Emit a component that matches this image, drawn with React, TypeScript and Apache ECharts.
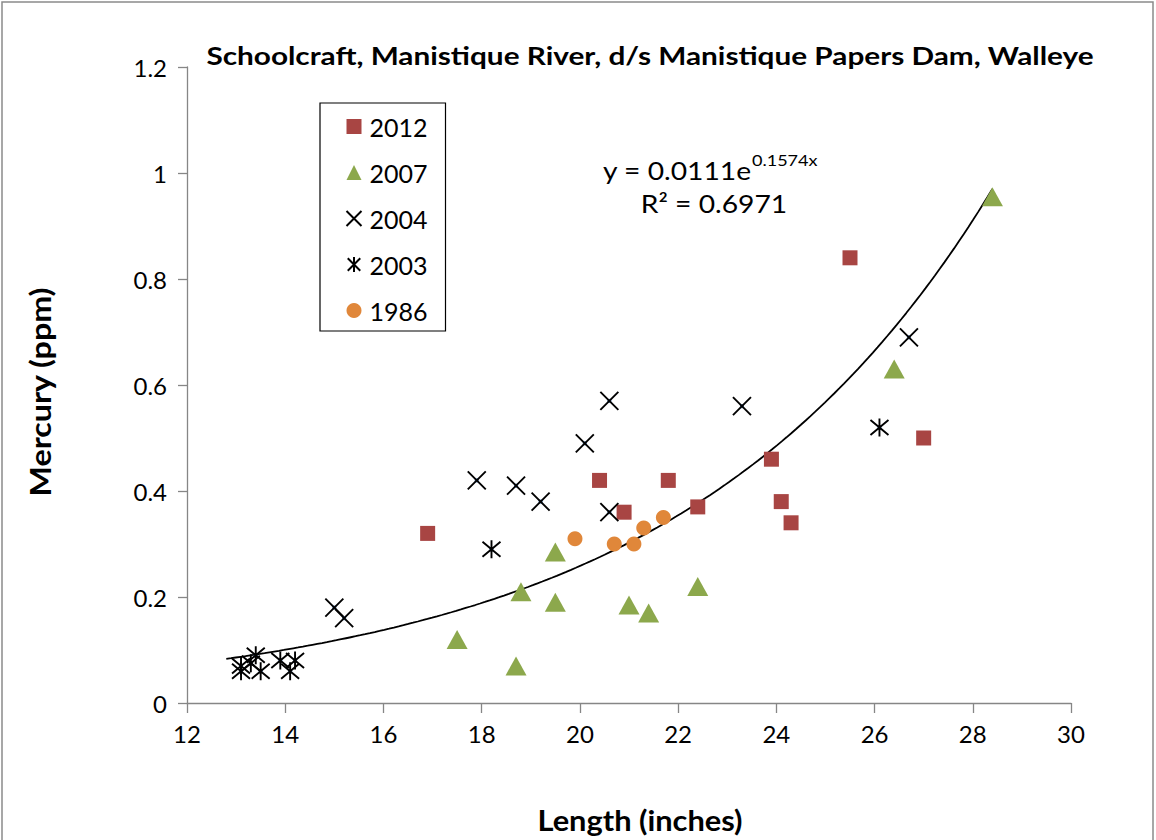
import React, { useEffect, useRef } from "react";
import * as echarts from "echarts";

const FONT = 'Lato, "Open Sans", sans-serif';

const titleText = "Schoolcraft, Manistique River, d/s Manistique Papers Dam, Walleye";
const xAxisName = "Length (inches)";
const yAxisName = "Mercury (ppm)";

const seriesNames = ["2012", "2007", "2004", "2003", "1986"];

const len2012 = [16.9, 20.4, 21.8, 20.9, 22.4, 25.5, 23.9, 24.1, 24.3, 27.0];
const hg2012 = [0.32, 0.42, 0.42, 0.36, 0.37, 0.84, 0.46, 0.38, 0.34, 0.5];

const len2007 = [17.5, 18.7, 18.8, 19.5, 19.5, 21.0, 21.4, 22.4, 26.4, 28.4];
const hg2007 = [0.12, 0.07, 0.21, 0.285, 0.19, 0.185, 0.17, 0.22, 0.63, 0.955];

const len2004 = [15.0, 15.2, 17.9, 18.7, 19.2, 20.1, 20.6, 20.6, 23.3, 26.7];
const hg2004 = [0.18, 0.16, 0.42, 0.41, 0.38, 0.49, 0.57, 0.36, 0.56, 0.69];

const len2003 = [13.1, 13.1, 13.3, 13.4, 13.5, 13.9, 14.1, 14.2, 18.2, 26.1];
const hg2003 = [0.06, 0.07, 0.075, 0.09, 0.06, 0.08, 0.06, 0.08, 0.29, 0.52];

const len1986 = [19.9, 20.7, 21.1, 21.3, 21.7];
const hg1986 = [0.31, 0.3, 0.3, 0.33, 0.35];

// Exponential trendline shown on the chart: y = 0.0111 e^(0.1574x)
const trendA = 0.0111;
const trendB = 0.1574;
const trendStart = 12.8;
const trendEnd = 28.4;

const xTicks = { min: 12, max: 30, interval: 2 };
const yTicks = { min: 0, max: 1.2, interval: 0.2 };

const X_SYMBOL = "path://M0,0L10,10M10,0L0,10";
const STAR_SYMBOL = "path://M0,0L10,10M10,0L0,10M5,-1L5,11";

function zip(xs: number[], ys: number[]) {
  return xs.map((x, i) => [x, ys[i]]);
}

function trendPoints() {
  const pts: number[][] = [];
  const steps = 160;
  for (let i = 0; i <= steps; i++) {
    const x = trendStart + ((trendEnd - trendStart) * i) / steps;
    pts.push([x, trendA * Math.exp(trendB * x)]);
  }
  return pts;
}

export default function App() {
  const ref = useRef<HTMLDivElement>(null);

  useEffect(() => {
    document.body.style.margin = "0";
    if (!ref.current) return;
    const chart = echarts.init(ref.current, null, { renderer: "svg" });
    const strokeStyle = { color: "none", borderColor: "#000", borderWidth: 1.9, opacity: 1 };
    const option: any = {
      animation: false,
      backgroundColor: "#fff",
      textStyle: { fontFamily: FONT },
      grid: { left: 187, top: 67, width: 884, height: 636, containLabel: false },
      xAxis: {
        type: "value",
        min: xTicks.min,
        max: xTicks.max,
        interval: xTicks.interval,
        axisLine: { lineStyle: { color: "#868686", width: 1.3 } },
        axisTick: { show: true, inside: false, length: 10, lineStyle: { color: "#868686", width: 1.3 } },
        axisLabel: { color: "#000", fontSize: 24, fontFamily: FONT, margin: 18 },
        splitLine: { show: false },
      },
      yAxis: {
        type: "value",
        min: yTicks.min,
        max: yTicks.max,
        interval: yTicks.interval,
        axisLine: { show: true, lineStyle: { color: "#868686", width: 1.3 } },
        axisTick: { show: true, inside: false, length: 9, lineStyle: { color: "#868686", width: 1.3 } },
        axisLabel: { color: "#000", fontSize: 24, fontFamily: FONT, margin: 20 },
        splitLine: { show: false },
      },
      legend: {
        orient: "vertical",
        left: 320,
        top: 103,
        data: seriesNames,
        backgroundColor: "#fff",
        borderColor: "#000",
        borderWidth: 1.2,
        borderRadius: 0,
        padding: [11, 18, 8, 24],
        itemGap: 21,
        itemWidth: 15,
        itemHeight: 15,
        textStyle: { fontSize: 25, color: "#000", fontFamily: FONT, padding: [0, 0, 0, 3] },
      },
      graphic: [
        {
          type: "rect",
          shape: { x: 2, y: 2, width: 1151, height: 860 },
          style: { fill: "none", stroke: "#8a8a8a", lineWidth: 1.5 },
          silent: true,
        },
        {
          type: "text",
          x: 650,
          y: 55,
          scaleX: 1.19,
          style: {
            text: titleText,
            font: `bold 25px ${FONT}`,
            fill: "#000",
            textAlign: "center",
            textVerticalAlign: "middle",
          },
        },
        {
          type: "text",
          x: 40,
          y: 392,
          rotation: Math.PI / 2,
          scaleX: 1.15,
          style: {
            text: yAxisName,
            font: `bold 28px ${FONT}`,
            fill: "#000",
            textAlign: "center",
            textVerticalAlign: "middle",
          },
        },
        {
          type: "text",
          x: 640,
          y: 820,
          scaleX: 1.1,
          style: {
            text: xAxisName,
            font: `bold 28px ${FONT}`,
            fill: "#000",
            textAlign: "center",
            textVerticalAlign: "middle",
          },
        },
        {
          type: "text",
          x: 603,
          y: 171,
          scaleX: 1.13,
          style: {
            text: "{a|y = 0.0111e}{b|0.1574x}",
            textAlign: "left",
            textVerticalAlign: "middle",
            rich: {
              a: { fontSize: 25, fontFamily: FONT, fill: "#000", lineHeight: 38 },
              b: { fontSize: 16, fontFamily: FONT, fill: "#000", lineHeight: 16, verticalAlign: "top" },
            },
          },
        },
        {
          type: "text",
          x: 714,
          y: 204,
          scaleX: 1.13,
          style: {
            text: "R² = 0.6971",
            font: `25px ${FONT}`,
            fill: "#000",
            textAlign: "center",
            textVerticalAlign: "middle",
          },
        },
      ],
      series: [
        {
          name: "trend",
          type: "line",
          data: trendPoints(),
          showSymbol: false,
          symbol: "none",
          silent: true,
          lineStyle: { color: "#000", width: 1.8 },
          z: 1,
        },
        {
          name: "2012",
          type: "scatter",
          data: zip(len2012, hg2012),
          symbol: "rect",
          symbolSize: 15,
          itemStyle: { color: "#A84543", opacity: 1 },
          z: 3,
        },
        {
          name: "2007",
          type: "scatter",
          data: zip(len2007, hg2007),
          symbol: "triangle",
          symbolSize: [21, 19],
          itemStyle: { color: "#8CA84C", opacity: 1 },
          z: 3,
        },
        {
          name: "2004 fill",
          type: "scatter",
          data: zip(len2004, hg2004),
          symbol: "rect",
          symbolSize: 4,
          silent: true,
          itemStyle: { color: "#4F81BD", opacity: 1 },
          z: 3,
        },
        {
          name: "2003 fill",
          type: "scatter",
          data: zip(len2003, hg2003),
          symbol: "rect",
          symbolSize: 4,
          silent: true,
          itemStyle: { color: "#4F81BD", opacity: 1 },
          z: 3,
        },
        {
          name: "2004",
          type: "scatter",
          data: zip(len2004, hg2004),
          symbol: X_SYMBOL,
          symbolSize: 18,
          itemStyle: strokeStyle,
          z: 4,
        },
        {
          name: "2003",
          type: "scatter",
          data: zip(len2003, hg2003),
          symbol: STAR_SYMBOL,
          symbolSize: 18,
          itemStyle: strokeStyle,
          z: 4,
        },
        {
          name: "1986",
          type: "scatter",
          data: zip(len1986, hg1986),
          symbol: "circle",
          symbolSize: 15,
          itemStyle: { color: "#E0873A", opacity: 1 },
          z: 3,
        },
      ],
    };
    chart.setOption(option);
    return () => chart.dispose();
  }, []);

  return <div ref={ref} style={{ width: 1156, height: 840 }} />;
}
